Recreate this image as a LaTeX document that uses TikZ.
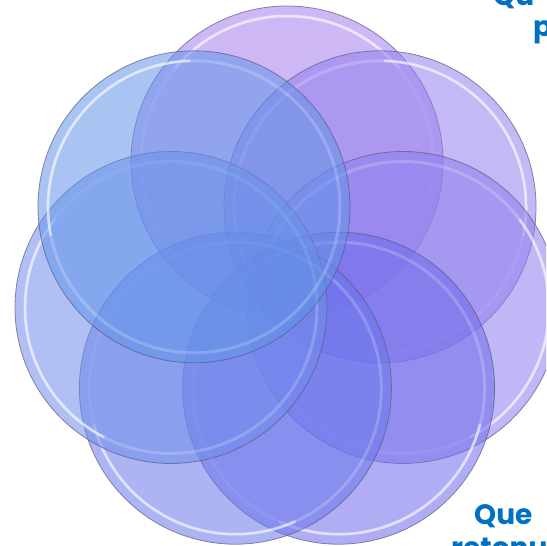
\documentclass[tikz,border=0pt]{standalone}
\usepackage{fontspec}
\newfontfamily\tfont{Poppins}
\definecolor{cA}{HTML}{A47EED}
\definecolor{cC}{HTML}{947EED}
\definecolor{cE}{HTML}{8C7EEF}
\definecolor{cG}{HTML}{706AEB}
\definecolor{cF}{HTML}{6877EB}
\definecolor{cD}{HTML}{708DEB}
\definecolor{cB}{HTML}{6294E7}
\definecolor{rimcol}{HTML}{5A5A80}
\definecolor{txtblue}{HTML}{0070C0}
\tikzset{
  petal/.style={circle, minimum size=312pt, inner sep=0pt, fill opacity=0.55,
    draw=rimcol, draw opacity=0.7, line width=0.8pt},
  glow/.style={white, opacity=0.2, line width=3pt},
  glowarc/.style={white, opacity=0.55, line width=2.5pt},
  label/.style={anchor=base west, inner sep=0pt, text=txtblue,
    font=\tfont\bfseries\fontsize{28}{32}\selectfont}
}
\begin{document}
\begin{tikzpicture}[x=1pt,y=1pt]
\useasboundingbox (0,0) rectangle (546,546);
\clip (0,0) rectangle (546,546);
\coordinate (O) at (287,265);
\foreach \n/\a in {A/90, C/38.57, E/-12.86, G/-64.29, F/-115.71, D/192.86, B/141.43} {
  \node[petal, fill=c\n] (\n) at ([shift={(\a:119)}]O) {};
  \draw[glow] (\n.center) circle (146);
  \draw[glowarc] ([shift={({\a-50}:146)}]\n.center) arc[start angle=\a-50, end angle=\a+50, radius=146];
}
\node[label] (t1) at (493,540) {Qu};
\node[label] (t2) at (533,509) {p};
\node[label] (t3) at (474,21) {Que};
\node[label] (t4) at (451,-12) {retonu};
\end{tikzpicture}
\end{document}
